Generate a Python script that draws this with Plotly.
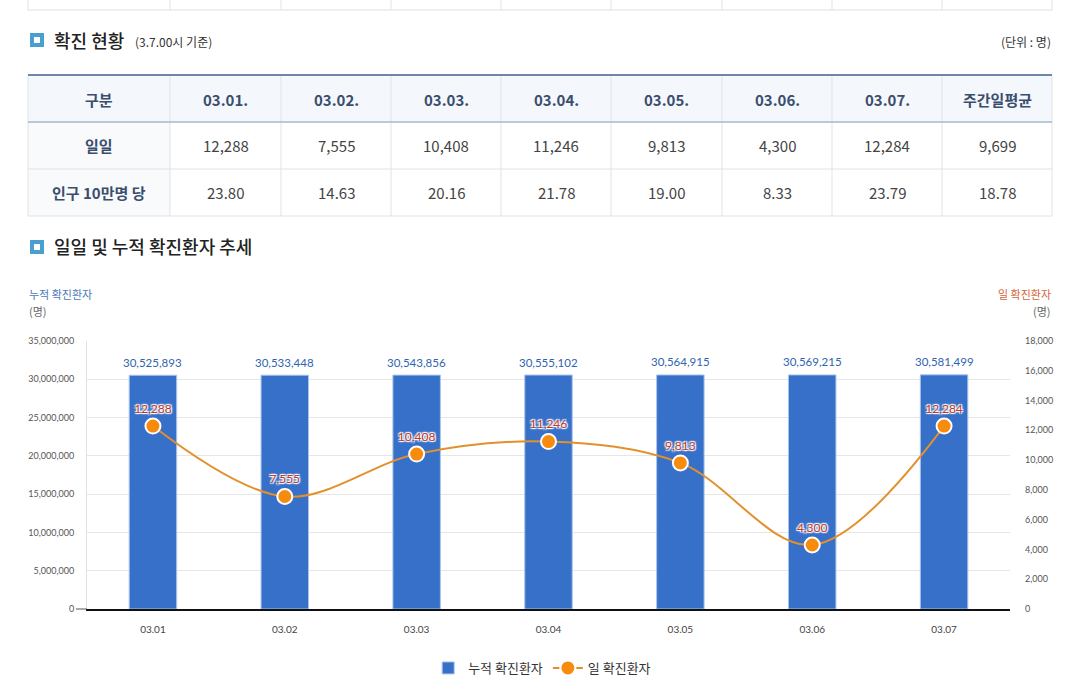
import plotly.graph_objects as go

W, H = 1080, 684

# ---- data ----
dates = ["03.01", "03.02", "03.03", "03.04", "03.05", "03.06", "03.07"]
table_headers = ["구분", "03.01.", "03.02.", "03.03.", "03.04.", "03.05.", "03.06.", "03.07.", "주간일평균"]
row_labels = ["일일", "인구 10만명 당"]
daily_table = ["12,288", "7,555", "10,408", "11,246", "9,813", "4,300", "12,284", "9,699"]
per100k_table = ["23.80", "14.63", "20.16", "21.78", "19.00", "8.33", "23.79", "18.78"]
cumulative = [30525893, 30533448, 30543856, 30555102, 30564915, 30569215, 30581499]
daily = [12288, 7555, 10408, 11246, 9813, 4300, 12284]
left_ticks = [0, 5000000, 10000000, 15000000, 20000000, 25000000, 30000000, 35000000]
right_ticks = [0, 2000, 4000, 6000, 8000, 10000, 12000, 14000, 16000, 18000]

KR = "Noto Sans CJK KR"
NUM = "Lato, Noto Sans CJK KR"


def px(x):
    return x / W


def py(y):
    return 1 - y / H


shapes = []
annotations = []


def line(x0, y0, x1, y1, color, width=1):
    shapes.append(dict(type="line", xref="paper", yref="paper",
                       x0=px(x0), y0=py(y0), x1=px(x1), y1=py(y1),
                       line=dict(color=color, width=width), layer="above"))


def rect(x0, y0, x1, y1, fill, layer="below"):
    shapes.append(dict(type="rect", xref="paper", yref="paper",
                       x0=px(x0), y0=py(y0), x1=px(x1), y1=py(y1),
                       fillcolor=fill, line=dict(width=0), layer=layer))


def text(x, y, s, size, color, anchor="center", family=KR, weight="normal"):
    annotations.append(dict(xref="paper", yref="paper", x=px(x), y=py(y), text=s,
                            showarrow=False, xanchor=anchor, yanchor="middle",
                            font=dict(size=size, color=color, family=family, weight=weight)))


col_x = [28, 170, 281, 391, 501, 611, 722, 832, 942, 1052]

# ---- previous table bottom strip ----
for cx in col_x:
    line(cx, 0, cx, 10, "#e0e3e8")
line(28, 10, 1052, 10, "#dcdfe4")

# ---- section 1 header ----
def icon(cy):
    rect(30, cy - 7, 44, cy + 7, "#4a9fd0", layer="above")
    rect(34, cy - 3, 40, cy + 3, "#ffffff", layer="above")

icon(40)
text(52, 40, "확진 현황", 18, "#222222", anchor="left", weight=500)
text(133, 42, "(3.7.00시 기준)", 12, "#333333", anchor="left")
text(1053, 41, "(단위 : 명)", 12, "#333333", anchor="right")

# ---- table ----
rect(28, 75, 1052, 122, "#f4f7fc")
rect(28, 122, 170, 216, "#f9fafc")
for cx in col_x:
    line(cx, 75, cx, 216, "#dfe3e8")
line(28, 169, 1052, 169, "#dfe2e6")
line(28, 216, 1052, 216, "#dfe2e6")
line(28, 122, 1052, 122, "#a9b7cc", 1.5)
line(28, 75, 1052, 75, "#6e86a8", 2)

centers = [(col_x[i] + col_x[i + 1]) / 2 for i in range(9)]
for i, h in enumerate(table_headers):
    text(centers[i], 99, h, 15, "#3b4e6d", weight="bold")
for r, (lab, vals) in enumerate(zip(row_labels, [daily_table, per100k_table])):
    cy = 145.5 + 47 * r
    text(centers[0], cy, lab, 15, "#3b4e6d", weight="bold")
    for i, v in enumerate(vals):
        text(centers[i + 1], cy, v, 15, "#444444")

# ---- section 2 header ----
icon(247)
text(52, 246, "일일 및 누적 확진환자 추세", 18, "#222222", anchor="left", weight=500)

# axis captions
text(27, 294, "누적 확진환자", 11, "#4a79b6", anchor="left")
text(27, 311, "(명)", 11, "#666666", anchor="left")
text(1053, 294, "일 확진환자", 11, "#d4643a", anchor="right")
text(1053, 311, "(명)", 11, "#666666", anchor="right")

# zero tick on left axis
line(76, 609, 87, 609, "#555555", 1)

# bar value labels, positioned through the data axes (category index)
for i, v in enumerate(cumulative):
    annotations.append(dict(xref="x", yref="y", x=i, y=v, text=f"{v:,}", showarrow=False,
                            xanchor="center", yanchor="middle", yshift=13,
                            font=dict(size=11.5, color="#2f64b0", family=NUM)))

fig = go.Figure()
fig.add_trace(go.Bar(
    x=dates, y=cumulative, name="누적 확진환자",
    marker=dict(color="#3670c8", line=dict(color="#a9c4ea", width=1)),
    yaxis="y",
))
fig.add_trace(go.Scatter(
    x=dates, y=daily, name="일 확진환자", yaxis="y2",
    mode="lines+markers+text",
    line=dict(color="#e3902c", width=2, shape="spline", smoothing=1),
    marker=dict(color="#f68b0e", size=15, line=dict(color="#ffffff", width=2)),
    text=[f"{v:,}" for v in daily], textposition="top center",
    textfont=dict(size=12, color="#c0392b", family=NUM,
                  shadow="1px 1px 1px #fff, -1px -1px 1px #fff, 1px -1px 1px #fff, -1px 1px 1px #fff, 0px 0px 3px #c9d3f0"),
    cliponaxis=False,
))

fig.update_layout(
    width=W, height=H, margin=dict(l=0, r=0, t=0, b=0, autoexpand=False),
    paper_bgcolor="white", plot_bgcolor="white",
    bargap=0.64, hovermode=False,
    shapes=shapes, annotations=annotations,
    font=dict(family=NUM, color="#444444"),
    xaxis=dict(type="category", domain=[px(87), px(1010)], showline=True, linecolor="#111111",
               linewidth=1.5, tickfont=dict(size=10, color="#444444", family=NUM), ticks="",
               ticklabelstandoff=10, showgrid=False, fixedrange=True),
    yaxis=dict(domain=[py(609), py(341)], range=[0, 35000000], tickvals=left_ticks,
               tickformat=",", showgrid=True, gridcolor="#e6e6e6", gridwidth=1,
               showline=True, linecolor="#e2e2e2", zeroline=False,
               tickfont=dict(size=9, color="#555555", family=NUM),
               ticklabelstandoff=10, fixedrange=True),
    yaxis2=dict(overlaying="y", side="right", range=[0, 18000], tickvals=right_ticks,
                tickformat=",", showgrid=False, zeroline=False, showline=False,
                tickfont=dict(size=9, color="#555555", family=NUM),
                ticklabelstandoff=14, fixedrange=True),
    legend=dict(orientation="h", x=0.502, xanchor="center", y=py(668), yanchor="middle",
                font=dict(size=13, color="#333333", family=KR), itemwidth=30),
)

fig.write_html("out.html", config={"displayModeBar": False},
               post_script="document.body.style.margin='0';document.body.style.overflow='hidden';")
